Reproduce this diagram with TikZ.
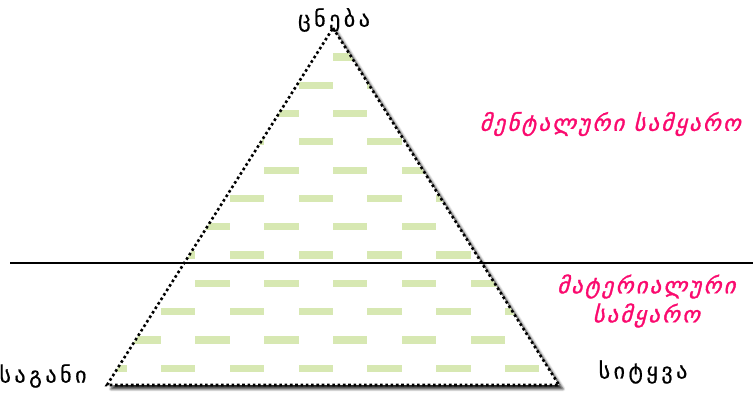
\documentclass[tikz,border=0pt]{standalone}
\usepackage{fontspec}
\setmainfont{DejaVu Sans}
\newfontfamily\wordfont[LetterSpace=16,FakeBold=0.6]{DejaVu Sans}
\newfontfamily\worldfont[FakeSlant=0.25,LetterSpace=10,FakeBold=1.4]{DejaVu Sans}
\usetikzlibrary{shadows.blur}
\definecolor{worldpink}{RGB}{250,10,110}
\definecolor{dashgreen}{RGB}{215,232,178}

\begin{document}
\begin{tikzpicture}[x=1pt,y=1pt,line join=miter,
  word/.style={font=\wordfont\fontsize{22}{24}\selectfont,inner sep=1pt},
  world/.style={font=\worldfont\fontsize{22.5}{29}\selectfont,text=worldpink,align=center,inner sep=1pt},
  dashbar/.style={fill=dashgreen},
  edge/.style={line width=2.6pt,dash pattern=on 2.6pt off 2.7pt}]
\useasboundingbox (0,0) rectangle (753,393);
\coordinate (top) at (333,365);
\coordinate (left) at (107,8);
\coordinate (right) at (559,8);
\coordinate (cutL) at (10,130);
\coordinate (cutR) at (753,130);
% triangle with its shadow
\fill[white,blur shadow={shadow xshift=4pt,shadow yshift=-4pt,shadow blur radius=2.5pt,shadow opacity=85}] (top) -- (right) -- (left) -- cycle;
\begin{scope}
\clip (top) -- (right) -- (left) -- cycle;
\foreach \i in {0,...,11} {
  \pgfmathsetmacro\rowy{336-28.3*\i}
  \pgfmathsetmacro\rowx{(mod(\i,2)==1 ? 161 : 195.4)-68.8}
  \foreach \k in {0,...,8}
    \fill[dashbar] (\rowx+68.8*\k,\rowy-3.6) rectangle ++(34.4,7.2);
}
\end{scope}
\draw[edge] (top) -- (right) -- (left) -- cycle;
\draw[line width=2.4pt] (cutL) -- (cutR);
\node[word] (concept) at (334,373) {ცნება};
\node[word] (thing) at (43,17) {საგანი};
\node[word] (wordlbl) at (643,21) {სიტყვა};
\node[world] (mental) at (610,269) {მენტალური სამყარო};
\node[world] (material) at (646,92) {მატერიალური\\სამყარო};
\end{tikzpicture}
\end{document}
